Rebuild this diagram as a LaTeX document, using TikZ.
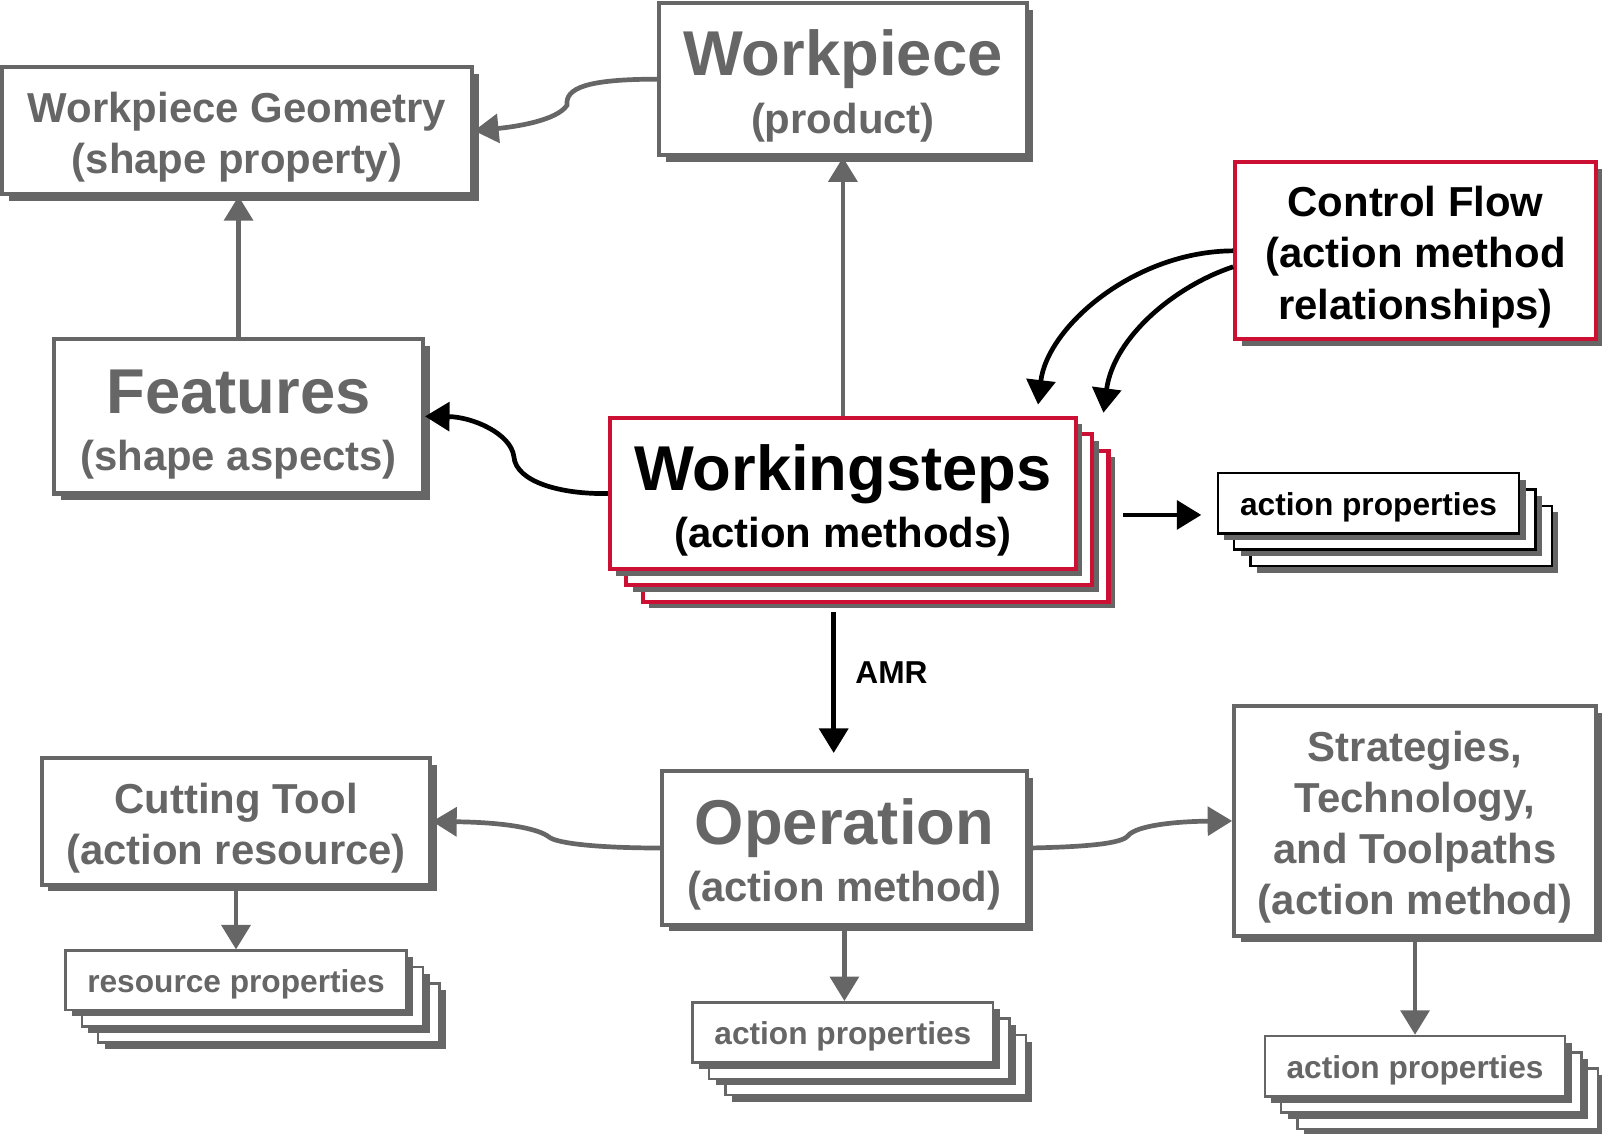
\documentclass[tikz,border=0pt]{standalone}
\usepackage{fontspec}
\setmainfont{Liberation Sans}
\usepackage{tikz}
\usetikzlibrary{arrows.meta}
\usetikzlibrary{shadows}
\definecolor{wpgray}{RGB}{102,102,102}
\definecolor{wpred}{RGB}{204,16,51}
\newcommand{\bighead}[1]{{\fontsize{31}{25}\selectfont\rule{0pt}{29pt}#1}}
\newcommand{\medhead}[1]{\rule{0pt}{21pt}#1}
\tikzset{
    box/.style={
           rectangle,
           draw=wpgray, line width=2pt,
           fill=white,
           text=wpgray,
           inner sep=2pt,
           drop shadow={shadow xshift=3.2pt, shadow yshift=-3.2pt, fill=wpgray, opacity=1},
           },
    block/.style={
           box,
           font=\bfseries\fontsize{20.5}{25}\selectfont,
           align=center,
           },
    redblock/.style={
           block,
           draw=wpred,
           text=black,
           },
    prop/.style={
           box,
           line width=1.2pt,
           font=\bfseries\fontsize{15.5}{19}\selectfont,
           text height=15.3pt,
           text depth=3.3pt,
           minimum width=147pt,
           minimum height=29.5pt,
           },
    prop2/.style={
           prop,
           draw=black,
           text=black,
           },
    conn/.style={->, draw=wpgray, line width=2.3pt},
    conn2/.style={->, draw=black, line width=2.3pt},
}
\begin{document}
\begin{tikzpicture}
[
x=0.5pt, y=-0.5pt,
>={Triangle[length=12pt,width=14pt]}
]
\useasboundingbox (0,0) rectangle (1568,1109);

 % Top: the product
 \node[block, minimum width=180pt, minimum height=74.5pt] (WPIECE) at (825,77.5)
 {%
\bighead{Workpiece}\\[3pt](product)
 };

 \node[block, minimum width=230pt, minimum height=62pt] (GEOM) at (232,128)
 {%
\medhead{Workpiece Geometry}\\(shape property)
 };

 \node[block, minimum width=180.5pt, minimum height=75.5pt] (FEAT) at (233.5,407.5)
 {%
\bighead{Features}\\[3pt](shape aspects)
 };

 % Workingsteps: two copies behind the front box
 \foreach \d in {32,16}
  \node[redblock, minimum width=228pt, minimum height=74pt] (WSTEP-\d) at (825+\d,483+\d) {};
 \node[redblock, minimum width=228pt, minimum height=74pt] (WSTEP) at (825,483)
 {%
\bighead{Workingsteps}\\[3pt](action methods)
 };

 \node[redblock, minimum width=176.5pt, minimum height=86.5pt] (CFLOW) at (1385.5,245.5)
 {%
\medhead{Control Flow}\\(action method\\relationships)
 };

 % properties of the workingsteps
 \foreach \d in {32,16}
  \node[prop2, minimum width=147.5pt] (PROPA-\d) at (1339.5+\d,492.5+\d) {};
 \node[prop2, minimum width=147.5pt] (PROPA) at (1339.5,492.5) {action properties};

 % Bottom row
 \node[block, minimum width=178.5pt, minimum height=75pt] (OPER) at (826.5,830)
 {%
\bighead{Operation}\\[3pt](action method)
 };

 \node[block, minimum width=190pt, minimum height=62pt] (CTOOL) at (231,804)
 {%
\medhead{Cutting Tool}\\(action resource)
 };

 \node[block, minimum width=177pt, minimum height=112.5pt] (STRAT) at (1385,803.5)
 {%
\medhead{Strategies,}\\Technology,\\and Toolpaths\\(action method)
 };

 \foreach \d in {32,16}
  \node[prop, minimum width=167pt, minimum height=29pt] (RPROP-\d) at (231+\d,959.5+\d) {};
 \node[prop, minimum width=167pt, minimum height=29pt] (RPROP) at (231,959.5) {resource properties};

 \foreach \d in {32,16}
  \node[prop] (PROPB-\d) at (825+\d,1010.5+\d) {};
 \node[prop] (PROPB) at (825,1010.5) {action properties};

 \foreach \d in {32,16}
  \node[prop] (PROPC-\d) at (1385+\d,1043.5+\d) {};
 \node[prop] (PROPC) at (1385,1043.5) {action properties};

 % free ends
 \coordinate (cf1) at (1016,396);
 \coordinate (cf2) at (1080,404);
 \coordinate (wsout) at (1099,504);
 \coordinate (amr) at (816,599);

 % connectors
 \draw[conn] (WPIECE.west) .. controls (575,77.5) and (553,86) .. (555,103)
   .. controls (545,118) and (505,124) .. (GEOM.east);
 \draw[conn] (FEAT.north) -- (FEAT.north |- GEOM.south);
 \draw[conn] (WSTEP.north) -- (WPIECE.south);
 \draw[conn2] (WSTEP.west) .. controls (550,484) and (505,472) .. (503,447)
   .. controls (500,424) and (462,408) .. (FEAT.east);
 \draw[conn2] (CFLOW.west) .. controls (1110,246) and (1025,320) .. (cf1);
 \draw[conn2] (CFLOW.185) .. controls (1150,280) and (1090,330) .. (cf2);
 \draw[conn2, shorten >=7.5pt] (wsout) -- (wsout -| PROPA.west);
 \draw[conn2, shorten >=8pt] (amr) -- (amr |- OPER.north)
  node[pos=0.385, right, inner sep=0pt, xshift=9.5pt, font=\bfseries\fontsize{15.5}{19}\selectfont] {AMR};
 \draw[conn] (OPER.west) .. controls (590,830) and (545,826) .. (537,819)
   .. controls (528,812) and (500,805) .. (CTOOL.east);
 \draw[conn] (OPER.east) .. controls (1060,829) and (1098,826) .. (1104,818)
   .. controls (1112,808) and (1150,804) .. (STRAT.west);
 \draw[conn] (CTOOL.south) -- (RPROP.north);
 \draw[conn] (OPER.south) -- (OPER.south |- PROPB.north);
 \draw[conn] (STRAT.south) -- (PROPC.north);
\end{tikzpicture}
\end{document}
